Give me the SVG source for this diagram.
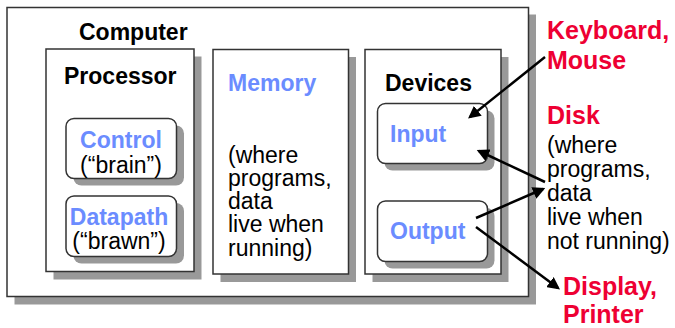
<svg xmlns="http://www.w3.org/2000/svg" width="675" height="328" viewBox="0 0 675 328">
<defs>
<style>
.box{fill:#fff;stroke:#333;stroke-width:1.5}
.sh{fill:#999}
.t{font-family:"Liberation Sans",Arial,sans-serif;font-size:23px}
.b{font-weight:bold}
.k{fill:#000}
.bl{fill:#6b8cff}
.r{fill:#ee0033;font-size:25px}
.c{stroke:#000;stroke-width:2.5;fill:none;marker-end:url(#ah)}
</style>
<marker id="ah" viewBox="0 0 10 10" refX="8" refY="5" markerWidth="5" markerHeight="5" orient="auto" markerUnits="strokeWidth">
<path d="M0,0 L10,5 L0,10 z" fill="#000"/>
</marker>
</defs>
<rect width="675" height="328" fill="#fff"/>
<g id="computer">
<rect class="sh" x="14.5" y="14.5" width="521.5" height="290"/>
<rect class="box" x="7" y="7.5" width="521.5" height="289"/>
<text class="t b k" x="79" y="39.5">Computer</text>
</g>
<g id="processor">
<rect class="sh" x="53.5" y="56.5" width="148" height="223"/>
<rect class="box" x="46" y="49" width="148" height="222.5"/>
<text class="t b k" x="64" y="83.5">Processor</text>
</g>
<g id="control">
<rect class="sh" x="73.5" y="125.5" width="110.5" height="60" rx="8"/>
<rect class="box" x="66" y="118.5" width="110.5" height="60" rx="8"/>
<text class="t b bl" x="121" y="147.5" text-anchor="middle">Control</text>
<text class="t k" x="121" y="172.5" text-anchor="middle">(“brain”)</text>
</g>
<g id="datapath">
<rect class="sh" x="73.5" y="203" width="110.5" height="60.5" rx="8"/>
<rect class="box" x="66" y="196" width="110.5" height="60.5" rx="8"/>
<text class="t b bl" x="119" y="224.5" text-anchor="middle">Datapath</text>
<text class="t k" x="119" y="249" text-anchor="middle">(“brawn”)</text>
</g>
<g id="memory">
<rect class="sh" x="220.5" y="57" width="135.5" height="225"/>
<rect class="box" x="213" y="49.5" width="135.5" height="224.5"/>
<text class="t b bl" x="228" y="90.5">Memory</text>
<text class="t k" x="228" y="162.5">(where</text>
<text class="t k" x="228" y="185.8">programs,</text>
<text class="t k" x="228" y="209">data</text>
<text class="t k" x="228" y="232.3">live when</text>
<text class="t k" x="228" y="255.5">running)</text>
</g>
<g id="devices">
<rect class="sh" x="372.5" y="57" width="136" height="225"/>
<rect class="box" x="365" y="49.5" width="136" height="224.5"/>
<text class="t b k" x="385" y="90.5">Devices</text>
</g>
<g id="input">
<rect class="sh" x="384.5" y="110.5" width="110" height="60" rx="8"/>
<rect class="box" x="377.5" y="103.5" width="110" height="60" rx="8"/>
<text class="t b bl" x="390" y="141.7">Input</text>
</g>
<g id="output">
<rect class="sh" x="384.5" y="208" width="110" height="60.5" rx="8"/>
<rect class="box" x="377.5" y="201" width="110" height="60.5" rx="8"/>
<text class="t b bl" x="390" y="239.3">Output</text>
</g>
<g id="keyboard">
<text class="t b r" x="547" y="38.5">Keyboard,</text>
<text class="t b r" x="547" y="68.5">Mouse</text>
</g>
<g id="disk">
<text class="t b r" x="547" y="124">Disk</text>
<text class="t k" x="547" y="152.5">(where</text>
<text class="t k" x="547" y="177">programs,</text>
<text class="t k" x="547" y="201">data</text>
<text class="t k" x="547" y="225">live when</text>
<text class="t k" x="547" y="248.5">not running)</text>
</g>
<g id="display">
<text class="t b r" x="563" y="295">Display,</text>
<text class="t b r" x="563" y="322.5">Printer</text>
</g>
<g id="connectors">
<line class="c" x1="545" y1="57" x2="470" y2="117"/>
<line class="c" x1="545" y1="182" x2="479" y2="151"/>
<line class="c" x1="476" y1="218" x2="543" y2="189"/>
<line class="c" x1="476" y1="227" x2="558" y2="288"/>
</g>
</svg>
